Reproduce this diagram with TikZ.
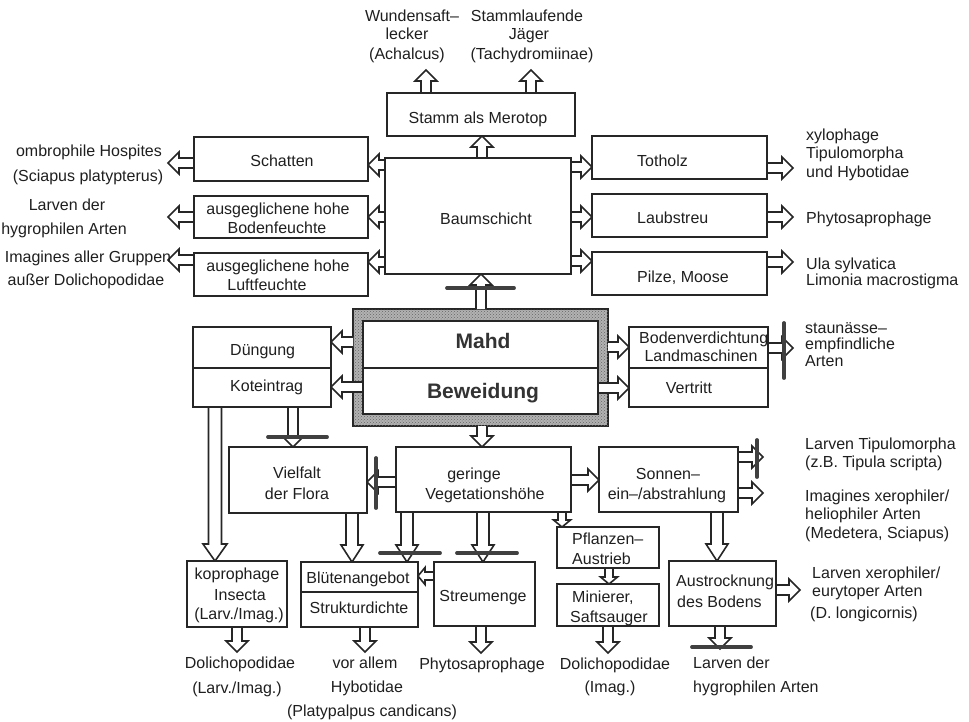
\documentclass[tikz,border=0pt]{standalone}
\usepackage{fontspec}
\setmainfont{Liberation Sans}
\usetikzlibrary{calc,patterns}
\pgfdeclarelayer{bg}
\pgfdeclarelayer{arr}
\pgfsetlayers{bg,arr,main}
\tikzset{
  box/.style={draw=black!85, line width=1.8pt, fill=white, inner sep=0pt, outer sep=0pt, anchor=north west},
  divline/.style={draw=black!85, line width=1.8pt},
  txt/.style={text=black!88, inner sep=0pt, font=\fontsize{16}{19}\selectfont},
  bigtxt/.style={text=black!80, inner sep=0pt, font=\fontsize{21}{24}\selectfont\bfseries},
  blk/.style={draw=black!85, line width=1.6pt, fill=white, line join=miter},
  inhib/.style={draw=black!75, line width=3.8pt, line cap=round},
}
\newcommand{\bx}[5]{\node[box, minimum width={#4-#2}, minimum height={#5-#3}] (#1) at (#2,#3) {};}
\newcommand{\txc}[4]{\node[txt, anchor=base] (#1) at (#2,{#3+6}) {#4};}
\newcommand{\txl}[4]{\node[txt, anchor=base west] (#1) at (#2,{#3+6}) {#4};}
\newcommand{\arrgen}[5]{%
  \path #4 coordinate (bas);
  \path #5 coordinate (bae);
  \path ($(bae)!#3pt!(bas)$) coordinate (bam);
  \path[blk] ($(bas)!#1pt!90:(bae)$) -- ($(bam)!#1pt!90:(bae)$) -- ($(bam)!#2pt!90:(bae)$) -- (bae) -- ($(bam)!#2pt!-90:(bae)$) -- ($(bam)!#1pt!-90:(bae)$) -- ($(bas)!#1pt!-90:(bae)$);
}
\newcommand{\barr}[2]{\arrgen{5}{11}{11}{#1}{#2}}
\newcommand{\sarr}[2]{\arrgen{4}{8.5}{7}{#1}{#2}}
\begin{document}
\begin{tikzpicture}[x=1pt,y=-1pt]
\useasboundingbox (0,0) rectangle (969,721);
\begin{pgfonlayer}{bg}
\fill[white] (0,0) rectangle (969,721);
\node[box, fill=black!30, postaction={pattern=crosshatch dots, pattern color=black!60}, minimum width=255, minimum height=117] (mahdo) at (353,309) {};
\end{pgfonlayer}

% ---------- boxes ----------
\bx{stamm}{387}{93}{575}{136}
\bx{baum}{385}{158}{571}{274}
\bx{schatten}{194}{137}{368}{181}
\bx{bodenf}{194}{196}{368}{238}
\bx{luftf}{194}{253}{368}{296}
\bx{totholz}{592}{136}{767}{179}
\bx{laub}{592}{194}{767}{237}
\bx{pilze}{592}{252}{767}{295}
\bx{mahdi}{363}{321}{598}{414}
\draw[divline] (mahdi.west |- 0,368) -- (mahdi.east |- 0,368);
\bx{dueng}{193}{327}{331}{407}
\draw[divline] (dueng.west |- 0,368) -- (dueng.east |- 0,368);
\bx{bodenv}{629}{327}{768}{407}
\draw[divline] (bodenv.west |- 0,368) -- (bodenv.east |- 0,368);
\bx{viel}{229}{447}{367}{513}
\bx{ger}{396}{447}{571}{512}
\bx{sonnen}{599}{447}{738}{512}
\bx{kopro}{187}{561}{287}{627}
\bx{blueten}{301}{562}{418}{627}
\draw[divline] (blueten.west |- 0,592) -- (blueten.east |- 0,592);
\bx{streu}{434}{562}{535}{626}
\bx{pflanz}{557}{527}{659}{568}
\bx{minier}{557}{584}{659}{626}
\bx{austr}{669}{561}{776}{626}

% ---------- free arrow ends ----------
\coordinate (eWund) at (426,70);
\coordinate (eStamm) at (531,70);
\coordinate (eL1) at (168,163);
\coordinate (eL2) at (168,217);
\coordinate (eL3) at (168,260);
\coordinate (eR1) at (793,168);
\coordinate (eR2) at (793,217);
\coordinate (eR3) at (793,262);
\coordinate (eBod) at (793,348);
\coordinate (eSo1) at (763,457);
\coordinate (eSo2) at (763,493);
\coordinate (eKop) at (237,652);
\coordinate (eBlu) at (365,652);
\coordinate (eStr) at (481,653);
\coordinate (eMin) at (608,653);
\coordinate (eAu1) at (720,649);
\coordinate (eAu2) at (800,590);

% ---------- arrows ----------
\begin{pgfonlayer}{arr}
\barr{(stamm.north -| eWund)}{(eWund)}
\barr{(stamm.north -| eStamm)}{(eStamm)}
\barr{(baum.north -| 482,0)}{(stamm.south -| 482,0)}
\barr{(baum.west |- 0,165)}{(schatten.east |- 0,165)}
\barr{(baum.west |- 0,217)}{(bodenf.east |- 0,217)}
\barr{(baum.west |- 0,262)}{(luftf.east |- 0,262)}
\barr{(schatten.west |- eL1)}{(eL1)}
\barr{(bodenf.west |- eL2)}{(eL2)}
\barr{(luftf.west |- eL3)}{(eL3)}
\barr{(baum.east |- 0,167)}{(totholz.west |- 0,167)}
\barr{(baum.east |- 0,217)}{(laub.west |- 0,217)}
\barr{(baum.east |- 0,261)}{(pilze.west |- 0,261)}
\barr{(totholz.east |- eR1)}{(eR1)}
\barr{(laub.east |- eR2)}{(eR2)}
\barr{(pilze.east |- eR3)}{(eR3)}
\barr{(mahdo.north -| 481,0)}{(baum.south -| 481,0)}
\barr{(mahdo.west |- 0,342)}{(dueng.east |- 0,342)}
\barr{(mahdi.west |- 0,387)}{(dueng.east |- 0,387)}
\barr{(mahdo.east |- 0,347)}{(bodenv.west |- 0,347)}
\barr{(mahdi.east |- 0,388)}{(bodenv.west |- 0,388)}
\barr{(bodenv.east |- eBod)}{(eBod)}
\barr{(mahdo.south -| 482,0)}{(ger.north -| 482,0)}
\barr{(dueng.south -| 293,0)}{(viel.north -| 293,0)}
\arrgen{6.5}{12}{17}{(dueng.south -| 215,0)}{(kopro.north -| 215,0)}
\barr{(ger.west |- 0,482)}{(viel.east |- 0,482)}
\barr{(ger.east |- 0,480)}{(sonnen.west |- 0,480)}
\barr{(sonnen.east |- eSo1)}{(eSo1)}
\barr{(sonnen.east |- eSo2)}{(eSo2)}
\arrgen{6}{11}{17}{(sonnen.south -| 717,0)}{(austr.north -| 717,0)}
\arrgen{6}{11}{17}{(ger.south -| 407,0)}{(blueten.north -| 407,0)}
\arrgen{6}{11}{17}{(ger.south -| 483,0)}{(streu.north -| 483,0)}
\sarr{(ger.south -| 562,0)}{(pflanz.north -| 562,0)}
\arrgen{6}{11}{17}{(viel.south -| 352,0)}{(blueten.north -| 352,0)}
\sarr{(streu.west |- 0,576)}{(blueten.east |- 0,576)}
\sarr{(pflanz.south -| 609,0)}{(minier.north -| 609,0)}
\barr{(kopro.south -| eKop)}{(eKop)}
\barr{(blueten.south -| eBlu)}{(eBlu)}
\barr{(streu.south -| eStr)}{(eStr)}
\barr{(minier.south -| eMin)}{(eMin)}
\barr{(austr.south -| eAu1)}{(eAu1)}
\barr{(austr.east |- eAu2)}{(eAu2)}
\end{pgfonlayer}

% ---------- inhibition bars ----------
\draw[inhib] (447,288) -- (514,288);
\draw[inhib] (268,437) -- (327,437);
\draw[inhib] (784,323) -- (784,378);
\draw[inhib] (376,458) -- (376,508);
\draw[inhib] (757,440) -- (757,477);
\draw[inhib] (380,553) -- (440,553);
\draw[inhib] (457,553) -- (517,553);
\draw[inhib] (692,647) -- (751,647);

% ---------- texts ----------
\txc{a1}{412}{15}{Wundensaft–}
\txc{a2}{407}{33}{lecker}
\txc{a3}{407}{53}{(Achalcus)}
\txc{a4}{527}{15}{Stammlaufende}
\txc{a5}{529}{33}{Jäger}
\txc{a6}{532}{53}{(Tachydromiinae)}
\txc{b1}{478}{117}{Stamm als Merotop}
\txc{b2}{486}{218}{Baumschicht}
\txc{b3}{282}{160}{Schatten}
\txc{b4}{278}{208}{ausgeglichene hohe}
\txc{b5}{277}{227}{Bodenfeuchte}
\txc{b6}{278}{265}{ausgeglichene hohe}
\txc{b7}{267}{284}{Luftfeuchte}
\txc{c1}{89}{150}{ombrophile Hospites}
\txc{c2}{88}{175}{(Sciapus platypterus)}
\txc{c3}{67}{204}{Larven der}
\txc{c4}{64}{228}{hygrophilen Arten}
\txc{c5}{88}{256}{Imagines aller Gruppen}
\txc{c6}{86}{279}{außer Dolichopodidae}
\txl{d1}{637}{160}{Totholz}
\txl{d2}{637}{217}{Laubstreu}
\txl{d3}{637}{276}{Pilze, Moose}
\txl{e1}{806}{134}{xylophage}
\txl{e2}{806}{152}{Tipulomorpha}
\txl{e3}{806}{171}{und Hybotidae}
\txl{e4}{806}{217}{Phytosaprophage}
\txl{e5}{806}{263}{Ula sylvatica}
\txl{e6}{806}{279}{Limonia macrostigma}
\node[bigtxt, anchor=base] (m1) at (483,348) {Mahd};
\node[bigtxt, anchor=base] (m2) at (483,398) {Beweidung};
\txl{f1}{230}{349}{Düngung}
\txl{f2}{230}{385}{Koteintrag}
\txl{g1}{639}{337}{Bodenverdichtung}
\txc{g2}{701}{355}{Landmaschinen}
\txc{g3}{689}{387}{Vertritt}
\txl{g4}{805}{327}{staunässe–}
\txl{g5}{805}{343}{empfindliche}
\txl{g6}{805}{360}{Arten}
\txc{h1}{297}{472}{Vielfalt}
\txc{h2}{297}{493}{der Flora}
\txc{h3}{474}{473}{geringe}
\txc{h4}{485}{493}{Vegetationshöhe}
\txc{h5}{668}{473}{Sonnen–}
\txc{h6}{667}{493}{ein–/abstrahlung}
\txl{i1}{805}{443}{Larven Tipulomorpha}
\txl{i2}{805}{461}{(z.B. Tipula scripta)}
\txl{i3}{805}{495}{Imagines xerophiler/}
\txl{i4}{805}{513}{heliophiler Arten}
\txl{i5}{805}{532}{(Medetera, Sciapus)}
\txc{k1}{237}{573}{koprophage}
\txc{k2}{240}{594}{Insecta}
\txc{k3}{239}{613}{(Larv./Imag.)}
\txc{k4}{358}{577}{Blütenangebot}
\txc{k5}{359}{607}{Strukturdichte}
\txc{k6}{483}{595}{Streumenge}
\txl{k7}{572}{538}{Pflanzen–}
\txl{k8}{572}{558}{Austrieb}
\txl{k9}{572}{596}{Minierer,}
\txl{k10}{570}{616}{Saftsauger}
\txl{k11}{676}{580}{Austrocknung}
\txl{k12}{677}{601}{des Bodens}
\txl{n1}{812}{572}{Larven xerophiler/}
\txl{n2}{812}{590}{eurytoper Arten}
\txl{n3}{810}{612}{(D. longicornis)}
\txc{p1}{240}{662}{Dolichopodidae}
\txc{p2}{237}{687}{(Larv./Imag.)}
\txc{p3}{365}{662}{vor allem}
\txc{p4}{367}{686}{Hybotidae}
\txc{p5}{372}{710}{(Platypalpus candicans)}
\txc{p6}{482}{663}{Phytosaprophage}
\txc{p7}{615}{663}{Dolichopodidae}
\txc{p8}{610}{686}{(Imag.)}
\txl{p9}{693}{662}{Larven der}
\txl{p10}{693}{686}{hygrophilen Arten}
\end{tikzpicture}
\end{document}
